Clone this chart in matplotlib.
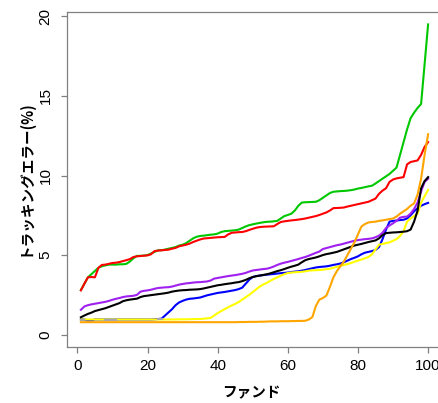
import numpy as np
import matplotlib
matplotlib.use("Agg")
import matplotlib.pyplot as plt

na = np.nan
funds = list(range(1, 101))

green = [2.8, 3.2, 3.6, 3.8, 4.0, 4.2, 4.3, 4.35, 4.4, 4.4,
         4.4, 4.42, 4.42, 4.45, 4.6, 4.8, 4.95, 4.95, 4.97, 5.0,
         5.1, 5.2, 5.3, 5.3, 5.35, 5.4, 5.45, 5.5, 5.6, 5.65,
         5.75, 5.9, 6.05, 6.15, 6.2, 6.22, 6.25, 6.28, 6.3, 6.35,
         6.45, 6.5, 6.52, 6.54, 6.56, 6.6, 6.7, 6.8, 6.88, 6.93,
         6.98, 7.02, 7.06, 7.09, 7.1, 7.12, 7.15, 7.3, 7.45, 7.52,
         7.6, 7.8, 8.1, 8.3, 8.32, 8.33, 8.34, 8.35, 8.45, 8.6,
         8.75, 8.9, 8.98, 9.0, 9.02, 9.03, 9.05, 9.08, 9.12, 9.18,
         9.22, 9.27, 9.32, 9.36, 9.5, 9.65, 9.8, 9.95, 10.1, 10.3,
         10.5, 11.3, 12.1, 12.9, 13.6, 13.95, 14.25, 14.5, 17.0, 19.5]

red = [2.78, 3.2, 3.6, 3.62, 3.6, 4.2, 4.38, 4.4, 4.45, 4.5,
       4.52, 4.56, 4.62, 4.68, 4.75, 4.88, 4.92, 4.94, 4.96, 4.98,
       5.05, 5.25, 5.28, 5.3, 5.32, 5.34, 5.4, 5.45, 5.55, 5.6,
       5.65, 5.72, 5.82, 5.9, 5.98, 6.04, 6.06, 6.08, 6.1, 6.12,
       6.13, 6.14, 6.3, 6.4, 6.42, 6.44, 6.45, 6.5, 6.58, 6.65,
       6.72, 6.76, 6.78, 6.79, 6.8, 6.81, 6.95, 7.08, 7.12, 7.15,
       7.18, 7.2, 7.23, 7.26, 7.3, 7.35, 7.4, 7.45, 7.52, 7.6,
       7.68, 7.8, 7.95, 7.96, 7.97, 7.99, 8.05, 8.1, 8.15, 8.2,
       8.25, 8.3, 8.35, 8.45, 8.55, 8.85, 9.05, 9.2, 9.6, 9.75,
       9.82, 9.86, 9.9, 10.7, 10.85, 10.9, 10.95, 11.3, 11.8, 12.1]

purple = [1.56, 1.77, 1.85, 1.9, 1.94, 1.98, 2.02, 2.06, 2.12, 2.19,
          2.25, 2.3, 2.36, 2.4, 2.42, 2.44, 2.5, 2.7, 2.75, 2.78,
          2.82, 2.88, 2.93, 2.95, 2.97, 2.98, 3.02, 3.08, 3.14, 3.18,
          3.22, 3.24, 3.27, 3.29, 3.3, 3.32, 3.34, 3.4, 3.52, 3.56,
          3.6, 3.64, 3.68, 3.71, 3.74, 3.78, 3.82, 3.88, 3.96, 4.03,
          4.06, 4.09, 4.12, 4.14, 4.2, 4.28, 4.38, 4.46, 4.52, 4.57,
          4.63, 4.69, 4.75, 4.82, 4.88, 4.96, 5.05, 5.14, 5.22, 5.38,
          5.44, 5.5, 5.56, 5.62, 5.66, 5.72, 5.78, 5.84, 5.9, 5.94,
          5.97, 6.0, 6.02, 6.05, 6.12, 6.22, 6.4, 6.7, 6.86, 7.0,
          7.15, 7.35, 7.4, 7.42, 7.6, 7.9, 8.3, 9.0, 9.6, 9.8]

black = [1.09, 1.2, 1.3, 1.38, 1.48, 1.54, 1.6, 1.66, 1.74, 1.82,
         1.9, 1.98, 2.1, 2.16, 2.2, 2.23, 2.26, 2.36, 2.42, 2.45,
         2.48, 2.51, 2.54, 2.57, 2.6, 2.64, 2.7, 2.74, 2.77, 2.79,
         2.8, 2.82, 2.83, 2.84, 2.86, 2.9, 2.95, 3.0, 3.05, 3.1,
         3.13, 3.17, 3.2, 3.23, 3.27, 3.3, 3.36, 3.44, 3.54, 3.62,
         3.67, 3.71, 3.75, 3.79, 3.85, 3.92, 3.99, 4.05, 4.12, 4.2,
         4.27, 4.33, 4.4, 4.55, 4.68, 4.75, 4.8, 4.85, 4.92, 5.0,
         5.06, 5.1, 5.15, 5.2, 5.28, 5.36, 5.44, 5.52, 5.6, 5.65,
         5.7, 5.76, 5.82, 5.87, 5.92, 6.05, 6.25, 6.38, 6.4, 6.42,
         6.43, 6.45, 6.47, 6.5, 6.6, 7.1, 7.8, 9.2, 9.65, 9.9]

blue = [0.95, 0.95, 0.88, 0.88, 0.95, 0.95, 0.95, 0.95, 0.95, 0.95,
        0.95, 0.95, 0.95, 0.95, 0.95, 0.95, 0.95, 0.95, 0.95, 0.95,
        0.95, 0.96, 0.98, 1.0, 1.2, 1.4, 1.6, 1.85, 2.02, 2.12,
        2.2, 2.25, 2.27, 2.3, 2.33, 2.4, 2.47, 2.52, 2.57, 2.62,
        2.65, 2.68, 2.72, 2.76, 2.8, 2.86, 2.95, 3.2, 3.45, 3.62,
        3.68, 3.71, 3.74, 3.77, 3.79, 3.81, 3.84, 3.86, 3.88, 3.9,
        3.93, 3.96, 3.98, 4.02, 4.06, 4.12, 4.17, 4.22, 4.25, 4.27,
        4.29, 4.33, 4.38, 4.42, 4.47, 4.55, 4.65, 4.75, 4.83, 4.92,
        5.05, 5.15, 5.2, 5.25, 5.32, 5.5, 6.0, 6.6, 7.1, 7.15,
        7.17, 7.2, 7.22, 7.3, 7.5, 7.75, 7.95, 8.1, 8.2, 8.28]

yellow = [0.95, 0.95, 0.95, 0.95, 0.95, 0.95, 0.95, 0.95, 0.95, 0.95,
          0.95, 0.95, 0.95, 0.95, 0.95, 0.95, 0.95, 0.95, 0.95, 0.95,
          0.95, 0.95, 0.95, 0.95, 0.95, 0.95, 0.95, 0.95, 0.96, 0.96,
          0.96, 0.97, 0.97, 0.98, 0.98, 1.0, 1.02, 1.05, 1.2, 1.35,
          1.48, 1.6, 1.72, 1.83, 1.93, 2.05, 2.2, 2.35, 2.5, 2.67,
          2.85, 3.02, 3.15, 3.25, 3.38, 3.5, 3.6, 3.7, 3.8, 3.87,
          3.9, 3.92, 3.93, 3.95, 3.98, 4.02, 4.04, 4.05, 4.06, 4.08,
          4.11, 4.14, 4.2, 4.26, 4.32, 4.38, 4.43, 4.5, 4.58, 4.65,
          4.72, 4.8, 4.88, 5.05, 5.35, 5.65, 5.7, 5.75, 5.8, 5.9,
          6.0, 6.2, 6.5, 7.1, 7.3, 7.45, 7.6, 8.3, 8.7, 9.1]

gray = [0.93, 0.93, na, na, na, na, na, 0.93, 0.93, 0.93,
        0.93, na, na, na, na, na, na, na, na, na,
        na, na, 1.0, 1.0] + [na] * 76

orange = [0.78, 0.78, 0.78, 0.78, 0.78, 0.78, 0.78, 0.78, 0.78, 0.78,
          0.78, 0.78, 0.78, 0.78, 0.78, 0.78, 0.78, 0.78, 0.78, 0.78,
          0.78, 0.78, 0.78, 0.78, 0.78, 0.78, 0.78, 0.78, 0.78, 0.78,
          0.78, 0.78, 0.78, 0.78, 0.78, 0.78, 0.78, 0.78, 0.78, 0.78,
          0.78, 0.78, 0.78, 0.78, 0.78, 0.79, 0.79, 0.79, 0.8, 0.8,
          0.8, 0.81, 0.81, 0.82, 0.83, 0.83, 0.83, 0.84, 0.84, 0.84,
          0.85, 0.85, 0.86, 0.86, 0.87, 0.95, 1.1, 1.8, 2.2, 2.3,
          2.45, 3.0, 3.6, 4.0, 4.3, 4.6, 5.0, 5.4, 5.8, 6.3,
          6.8, 6.95, 7.05, 7.08, 7.1, 7.15, 7.18, 7.22, 7.26, 7.3,
          7.42, 7.6, 7.75, 7.9, 8.1, 8.25, 8.8, 9.8, 11.3, 12.6]

series = [
    (green, "#00C800"),
    (red, "#FF0000"),
    (blue, "#0000FF"),
    (yellow, "#FFFF00"),
    (gray, "#A8A8A8"),
    (purple, "#A020F0"),
    (black, "#000000"),
    (orange, "#FFA500"),
]

x_ticks = [0, 20, 40, 60, 80, 100]
y_ticks = [0, 5, 10, 15, 20]
xlabel = "ファンド"
ylabel = "トラッキングエラー(%)"

W, H = 439, 403
fig = plt.figure(figsize=(W / 100, H / 100), dpi=100)
L, R, T, B = 67, 442, 12, 347
ax = fig.add_axes([L / W, 1 - B / H, (R - L) / W, (B - T) / H])

for vals, col in series:
    ax.plot(funds, vals, color=col, linewidth=1.5, solid_joinstyle="round")

ax.set_xlim(-2.96, 103.96)
ax.set_ylim(-0.78, 20.28)

spine_col = "#808080"
for s in ax.spines.values():
    s.set_color(spine_col)
    s.set_linewidth(0.9)

ax.set_xticks(x_ticks)
ax.set_yticks(y_ticks)
tick_font = "Liberation Sans"
ax.set_xticklabels([str(v) for v in x_ticks], fontfamily=tick_font, fontsize=11)
ax.set_yticklabels([str(v) for v in y_ticks], fontfamily=tick_font, fontsize=11,
                   rotation=90, va="center")
ax.tick_params(axis="both", direction="out", length=4.5, width=0.9,
               color=spine_col, labelcolor="black")
ax.tick_params(axis="x", pad=4)
ax.tick_params(axis="y", pad=6)

cjk = ["Noto Sans CJK JP", "DejaVu Sans"]
fig.text(251 / W, 1 - 392 / H, xlabel, family=cjk, fontsize=10.5,
         fontweight="bold", ha="center", va="center")
fig.text(24 / W, 1 - 178 / H, ylabel, family=cjk, fontsize=10.5,
         fontweight="bold", ha="center", va="center", rotation=90)

fig.savefig("out.png", dpi=100)
